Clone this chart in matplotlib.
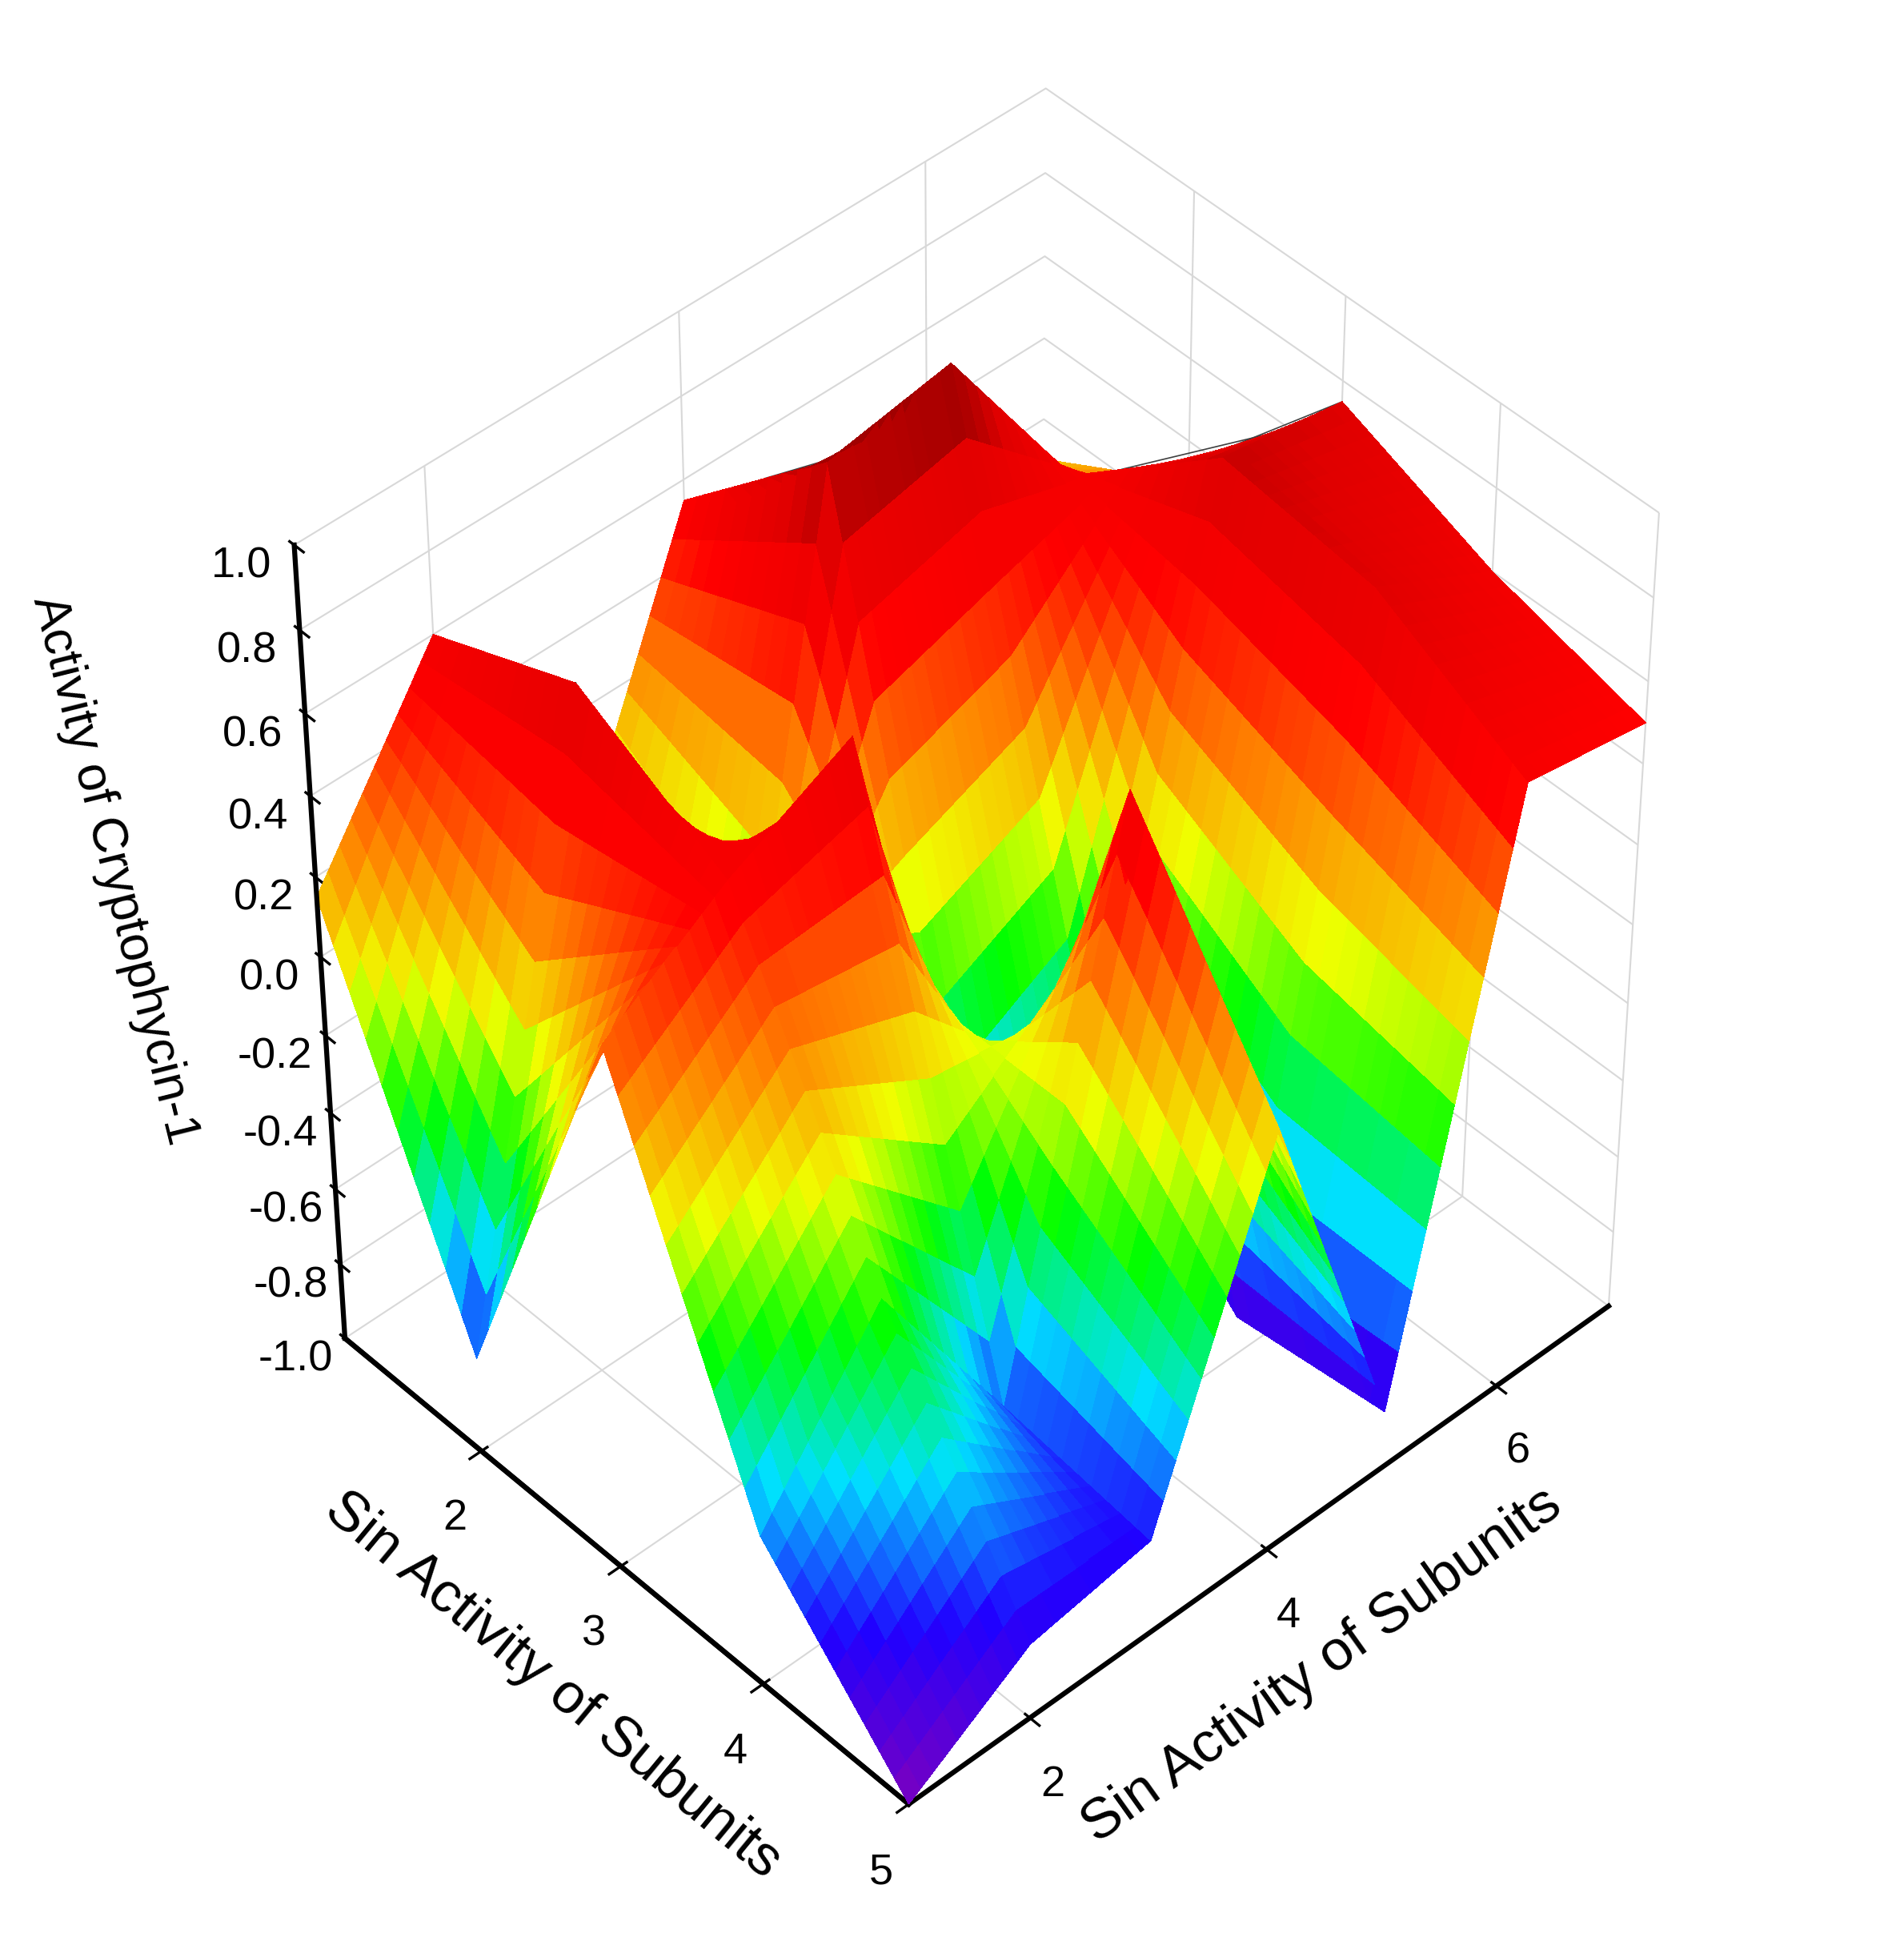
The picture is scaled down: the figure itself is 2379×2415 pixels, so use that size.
import numpy as np
import matplotlib.pyplot as plt
from matplotlib.colors import LinearSegmentedColormap

plt.rcParams['font.family'] = ['Liberation Sans', 'DejaVu Sans']
plt.rcParams['axes.unicode_minus'] = False

# grid of subunit activities
x_vals = [1, 2, 3, 4, 5]
y_vals = [1, 2, 3, 4, 5, 6, 7]
# activity of Cryptophycin-1, rows = x, columns = y
z_vals = [
    [0.15, 0.60, -0.20, 0.55, -0.30, 0.20, 0.10],
    [-0.75, 0.75, -0.85, 0.90, 0.95, 0.50, 0.30],
    [0.35, 0.55, 0.70, -0.75, -0.55, 0.80, 0.75],
    [-0.60, -0.20, -0.70, 0.65, -0.90, 0.75, 0.60],
    [-1.00, -0.80, -0.75, 0.10, -0.85, 0.55, 0.50],
]

X, Y = np.meshgrid(x_vals, y_vals, indexing='ij')
Z = np.array(z_vals)

# subdivide each grid cell (bilinear, same surface) so the colour can vary smoothly
n = 10
fx = np.linspace(x_vals[0], x_vals[-1], (len(x_vals) - 1) * n + 1)
fy = np.linspace(y_vals[0], y_vals[-1], (len(y_vals) - 1) * n + 1)
tmp = np.array([np.interp(fy, y_vals, row) for row in Z])
Zf = np.array([np.interp(fx, x_vals, col) for col in tmp.T]).T
Xf, Yf = np.meshgrid(fx, fy, indexing='ij')

cmap = LinearSegmentedColormap.from_list('rb', [
    '#7a00c0', '#2000ff', '#00e0ff', '#00ff00', '#f0ff00',
    '#ff8000', '#ff0000', '#e00000', '#700000'])

fig = plt.figure(figsize=(7.93, 8.05), dpi=300)
ax = fig.add_axes([0.0, 0.0, 1.0, 1.0], projection='3d')
ax.plot_surface(Xf, Yf, Zf, cmap=cmap, vmin=-1, vmax=1, rstride=1, cstride=1,
                linewidth=0, antialiased=False, shade=False)
ax.contour(X, Y, Z, levels=np.linspace(-0.9, 0.9, 13), colors='#404040', linewidths=0.4)

ax.set_xlim(1, 5)
ax.set_ylim(1, 7)
ax.set_zlim(-1, 1)
# vertical axis line at the left corner
ax.plot([x_vals[0], x_vals[0]], [y_vals[0], y_vals[0]], [-1, 1], color='black', lw=1.5, zorder=10)

ax.set_xticks([2, 3, 4, 5])
ax.set_yticks([2, 4, 6])
ax.set_zticks(np.round(np.arange(-1, 1.01, 0.2), 1))
ax.set_xlabel('Sin Activity of Subunits', fontsize=17, labelpad=8)
ax.set_ylabel('Sin Activity of Subunits', fontsize=17, labelpad=8)
ax.set_zlabel('')
fig.text(0.06, 0.55, 'Activity of Cryptophycin-1', fontsize=15, rotation=-76,
         ha='center', va='center')
ax.tick_params(labelsize=13)
ax.zaxis._axinfo['juggled'] = (1, 0, 2)
for a in (ax.xaxis, ax.yaxis, ax.zaxis):
    a.set_pane_color((1, 1, 1, 0))
    a.line.set_linewidth(1.5)
    a._axinfo['grid']['color'] = '#d8d8d8'
    a._axinfo['grid']['linewidth'] = 0.5
ax.view_init(elev=45, azim=-43)
ax.set_box_aspect((1, 1.15, 1.3), zoom=0.88)

plt.savefig('out.png', dpi=300)
